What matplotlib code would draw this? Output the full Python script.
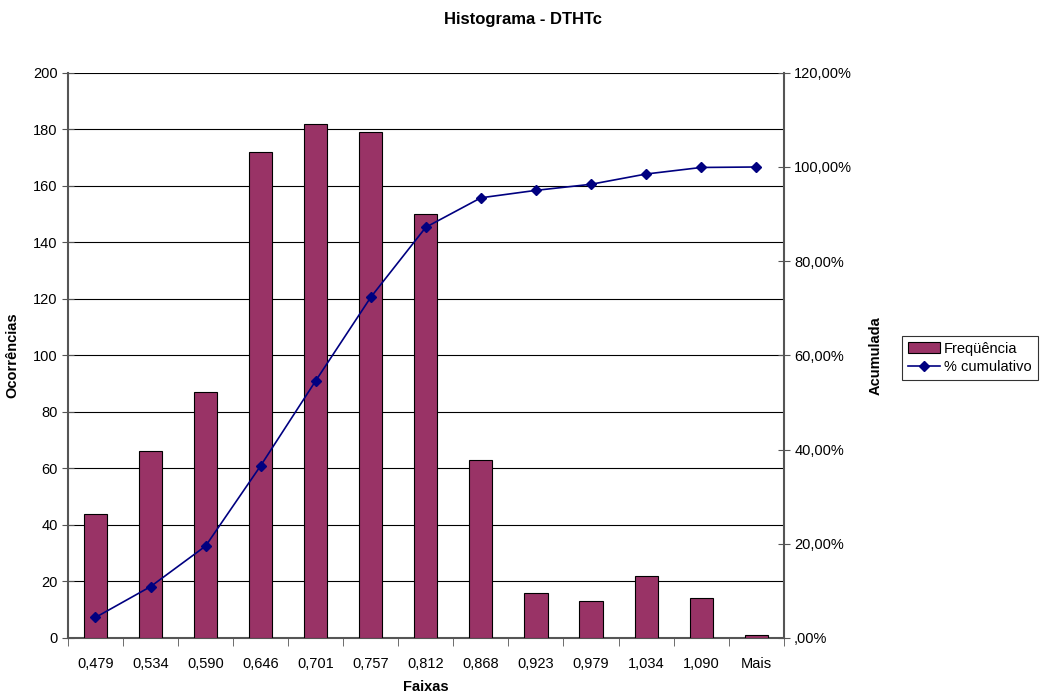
import matplotlib
matplotlib.use("Agg")
import matplotlib.pyplot as plt
from matplotlib.ticker import FixedLocator, MultipleLocator
import numpy as np

plt.rcParams['font.family'] = ['Liberation Sans', 'DejaVu Sans']

categories = ["0,479", "0,534", "0,590", "0,646", "0,701", "0,757", "0,812",
              "0,868", "0,923", "0,979", "1,034", "1,090", "Mais"]
frequencia = [44, 66, 87, 172, 182, 179, 150, 63, 16, 13, 22, 14, 1]
cumulativo = [4.36, 10.90, 19.52, 36.57, 54.61, 72.35, 87.21, 93.46,
              95.04, 96.33, 98.51, 99.90, 100.0]
pct_ticks = [0, 20, 40, 60, 80, 100, 120]
pct_labels = [",00%", "20,00%", "40,00%", "60,00%", "80,00%", "100,00%", "120,00%"]

fig = plt.figure(figsize=(10.45, 7.0), dpi=100)
ax = fig.add_axes([0.065, 0.0886, 0.685, 0.8074])
x = np.arange(len(categories))

bars = ax.bar(x, frequencia, width=0.42, color="#993366", edgecolor="black",
              linewidth=0.8, zorder=3, label="Freqüência")
ax.set_xlim(-0.5, len(categories) - 0.5)
ax.set_ylim(0, 200)
ax.yaxis.set_major_locator(MultipleLocator(20))
ax.grid(axis='y', color='black', linewidth=0.8, zorder=0)
ax.set_axisbelow(True)

ax.set_xticks(x)
ax.set_xticklabels(categories, fontsize=10.5)
ax.xaxis.set_minor_locator(FixedLocator(np.arange(-0.5, len(categories), 1.0)))
ax.tick_params(axis='x', which='major', length=0, pad=14)
ax.tick_params(axis='x', which='minor', length=6, direction='out', color='#555555')
ax.tick_params(axis='y', which='major', length=8, direction='inout', color='#555555',
               labelsize=10.5)

for s in ['top', 'right']:
    ax.spines[s].set_visible(False)
ax.spines['left'].set_color('#555555')
ax.spines['left'].set_linewidth(1.5)
ax.spines['bottom'].set_color('#555555')
ax.spines['bottom'].set_linewidth(1.5)

ax.set_xlabel("Faixas", fontsize=10.5, fontweight='bold', labelpad=6)
ax.set_ylabel("Ocorrências", fontsize=10.5, fontweight='bold', labelpad=10)

ax2 = ax.twinx()
line, = ax2.plot(x, cumulativo, color="#000080", marker='D', markersize=5,
                 linewidth=1.2, label="% cumulativo", zorder=4)
ax2.set_ylim(0, 120)
ax2.set_yticks(pct_ticks)
ax2.set_yticklabels(pct_labels)
ax2.tick_params(axis='y', length=8, direction='inout', color='#555555', labelsize=10.5)
for s in ['top', 'left', 'bottom']:
    ax2.spines[s].set_visible(False)
ax2.spines['right'].set_color('#555555')
ax2.spines['right'].set_linewidth(1.5)
ax2.set_ylabel("Acumulada", fontsize=10.5, fontweight='bold', labelpad=12)

fig.suptitle("Histograma - DTHTc", fontsize=12, fontweight='bold', y=0.983)

leg = fig.legend([bars, line], ["Freqüência", "% cumulativo"],
                 loc='center left', bbox_to_anchor=(0.863, 0.489),
                 frameon=True, fancybox=False, edgecolor='black',
                 fontsize=10.5, handlelength=2.2, borderpad=0.4,
                 labelspacing=0.3, handletextpad=0.3, borderaxespad=0)
leg.get_frame().set_linewidth(0.8)

fig.savefig("out.png", dpi=100)
